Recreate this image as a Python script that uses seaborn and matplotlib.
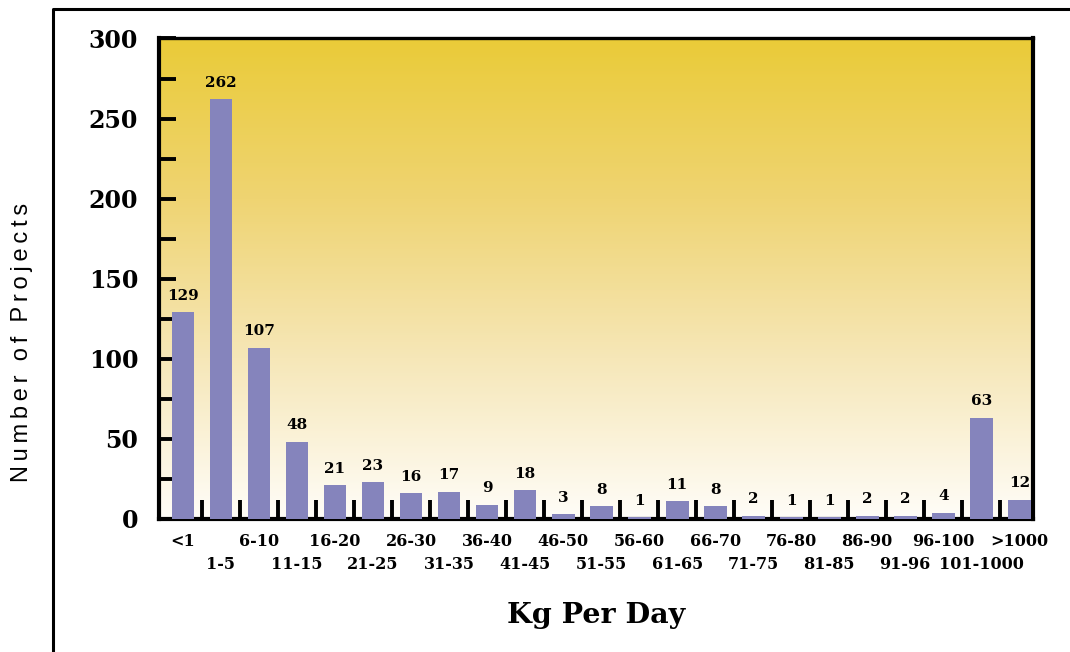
import numpy as np
import pandas as pd
import seaborn as sns
import matplotlib.pyplot as plt
from matplotlib.lines import Line2D
from matplotlib.colors import LinearSegmentedColormap

# data
categories = ["<1", "1-5", "6-10", "11-15", "16-20", "21-25", "26-30", "31-35",
              "36-40", "41-45", "46-50", "51-55", "56-60", "61-65", "66-70",
              "71-75", "76-80", "81-85", "86-90", "91-96", "96-100",
              "101-1000", ">1000"]
projects = [129, 262, 107, 48, 21, 23, 16, 17, 9, 18, 3, 8, 1, 11, 8,
            2, 1, 1, 2, 2, 4, 63, 12]
y_ticks = [0, 50, 100, 150, 200, 250, 300]

df = pd.DataFrame({"kg": categories, "n": projects})

sns.set_style("white")
plt.rcParams["font.family"] = ["DejaVu Serif"]
plt.rcParams["text.color"] = "black"
plt.rcParams["axes.labelcolor"] = "black"
plt.rcParams["xtick.color"] = "black"
plt.rcParams["ytick.color"] = "black"

fig = plt.figure(figsize=(10.7, 6.52), dpi=100)
ax = fig.add_axes([0.1486, 0.204, 0.8168, 0.737])

# yellow gradient background
grad = LinearSegmentedColormap.from_list("bg", ["#FFFDF8", "#F6E7B8", "#EFD472", "#EACB38"])
ax.imshow(np.linspace(0, 1, 256).reshape(-1, 1), cmap=grad, aspect="auto",
          extent=(-0.63, 22.36, 0, 300), origin="lower", zorder=0)

sns.barplot(data=df, x="kg", y="n", color="#8584BC", saturation=1, width=0.6,
            linewidth=0, ax=ax, zorder=3)
ax.set_xlim(-0.63, 22.36)
ax.set_ylim(0, 300)
ax.set_ylabel("")

for i, v in enumerate(projects):
    ax.text(i, v + 6, str(v), ha="center", va="bottom", fontsize=11,
            fontweight="bold", zorder=4)

# y axis
ax.set_yticks(y_ticks)
ax.set_yticklabels([str(t) for t in y_ticks], fontsize=17, fontweight="bold")
ax.set_yticks(np.arange(25, 300, 50), minor=True)
ax.tick_params(axis="y", which="both", direction="in", length=12, width=2.8,
               pad=15, left=True, right=False)

# x axis: ticks between bars, labels staggered in two rows
ax.set_xticks(np.arange(0.5, len(categories) - 1, 1))
ax.set_xticklabels([])
ax.tick_params(axis="x", direction="in", length=14, width=2.8, bottom=True, top=False)
for i, lab in enumerate(categories):
    ax.text(i, -9 if i % 2 == 0 else -23, lab, ha="center", va="top",
            fontsize=11.5, fontweight="bold", clip_on=False)

ax.set_xlabel("Kg Per Day", fontsize=20.5, fontweight="bold", labelpad=56)

ylab = "\u2009".join("Number") + "\u2009\u2009\u2009" + "\u2009".join("of") + \
       "\u2009\u2009\u2009" + "\u2009".join("Projects")
fig.text(22 / 1070, 1 - 342 / 652, ylab, rotation=90, ha="center", va="center",
         fontsize=17, family=["Liberation Sans", "DejaVu Sans"])

for s in ax.spines.values():
    s.set_linewidth(3)
    s.set_color("black")
    s.set_zorder(2.5)
ax.spines["top"].set_linewidth(2.4)

# outer frame lines (left and top)
fig.add_artist(Line2D([0.0495, 0.0495, 1.0], [0.0, 0.986, 0.986], color="black", lw=2.2))

fig.savefig("out.png", dpi=100)
